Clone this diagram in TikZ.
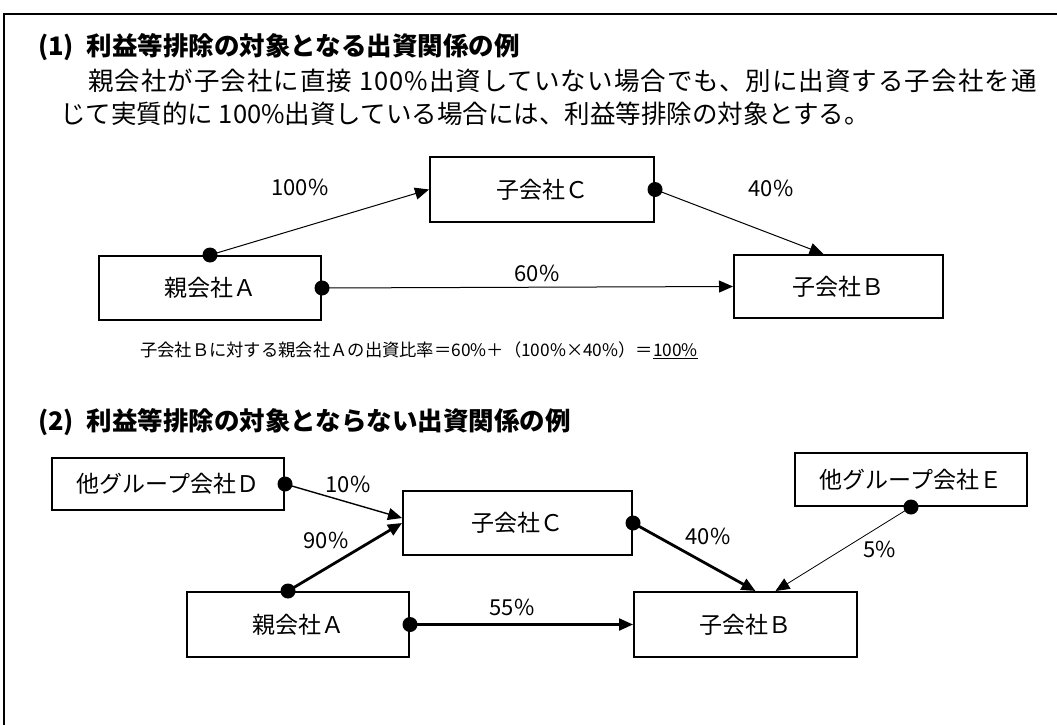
\documentclass[tikz,border=0pt]{standalone}
\usepackage{fontspec}
\setmainfont{Noto Sans CJK JP}
\usetikzlibrary{arrows.meta,calc}
\tikzset{
  box/.style={draw,line width=2pt,inner sep=0pt,font=\fontsize{23}{23}\selectfont},
  pct/.style={font=\fontsize{22}{22}\selectfont,inner sep=0pt},
  bodytext/.style={font=\fontsize{25.5}{25.5}\selectfont,inner sep=0pt,anchor=west},
  headtext/.style={font=\fontsize{25.5}{25.5}\selectfont\bfseries,inner sep=0pt,anchor=west},
  conn/.style={-{Triangle[length=14pt,width=12pt]}},
  frame/.style={line width=2pt}
}
\begin{document}
\begin{tikzpicture}[x=1pt,y=-1pt]
\useasboundingbox (0,0) rectangle (1057,725);
\draw[frame] (4,725) -- (4,14) -- (1057,14);

% Section 1 text
\node[headtext] (h1) at (38,47) {(1)\hspace{0.5em}利益等排除の対象となる出資関係の例};
\node[bodytext] (t1) at (88,81) {\addfontfeature{LetterSpace=4}親会社が子会社に直接 100\%出資していない場合でも、別に出資する子会社を通};
\node[bodytext] (t2) at (60,114) {じて実質的に 100\%出資している場合には、利益等排除の対象とする。};

% Section 1 boxes
\node[box,minimum width=224,minimum height=65] (C1) at (542,189.5) {子会社Ｃ};
\node[box,minimum width=222,minimum height=64] (A1) at (210,288) {親会社Ａ};
\node[box,minimum width=209,minimum height=63] (B1) at (838.5,286.5) {子会社Ｂ};

\draw[conn,line width=1pt] (A1.north) -- (C1.west);
\draw[conn,line width=1pt] (C1.east) -- ($(B1.north)+(-15,0)$);
\draw[conn,line width=1pt] (A1.east) -- (B1.west);
\fill (A1.north) circle (7.5);
\fill (C1.east) circle (7.5);
\fill (A1.east) circle (7.5);

\node[pct] (p100) at (300,187) {100\%};
\node[pct] (p40a) at (771,188) {40\%};
\node[pct] (p60) at (537,273) {60\%};

\node[font=\fontsize{17.3}{17.3}\selectfont,inner sep=0pt] (f1) at (419,350)
  {子会社Ｂに対する親会社Ａの出資比率＝60\%＋（100\%×40\%）＝\underline{100\%}};

% Section 2
\node[headtext] (h2) at (38,422) {(2)\hspace{0.5em}利益等排除の対象とならない出資関係の例};

\node[box,minimum width=232,minimum height=52] (D) at (168,484) {他グループ会社Ｄ};
\node[box,minimum width=229,minimum height=64] (C2) at (517.5,523) {子会社Ｃ};
\node[box,minimum width=232,minimum height=53] (E) at (911,479.5) {他グループ会社Ｅ};
\node[box,minimum width=222,minimum height=65] (A2) at (298,624.5) {親会社Ａ};
\node[box,minimum width=223,minimum height=65] (B2) at (745.5,624.5) {子会社Ｂ};

\coordinate (A2top) at ($(A2.north)+(-10,0)$);
\draw[conn,line width=1.4pt] (D.east) -- ($(C2.west)+(0,-5)$);
\draw[conn,line width=2.8pt] (A2top) -- (C2.west);
\draw[conn,line width=2.8pt] (C2.east) -- ($(B2.north)+(10,0)$);
\draw[conn,line width=0.8pt] (E.south) -- ($(B2.north)+(30,0)$);
\draw[conn,line width=2.2pt] (A2.east) -- (B2.west);
\fill (D.east) circle (7.5);
\fill (A2top) circle (7.5);
\fill (C2.east) circle (7.5);
\fill (E.south) circle (7.5);
\fill (A2.east) circle (7.5);

\node[pct] (p10) at (348,484) {10\%};
\node[pct] (p90) at (326,540) {90\%};
\node[pct] (p40b) at (708,536) {40\%};
\node[pct] (p5) at (880,549) {5\%};
\node[pct] (p55) at (512,607) {55\%};
\end{tikzpicture}
\end{document}
